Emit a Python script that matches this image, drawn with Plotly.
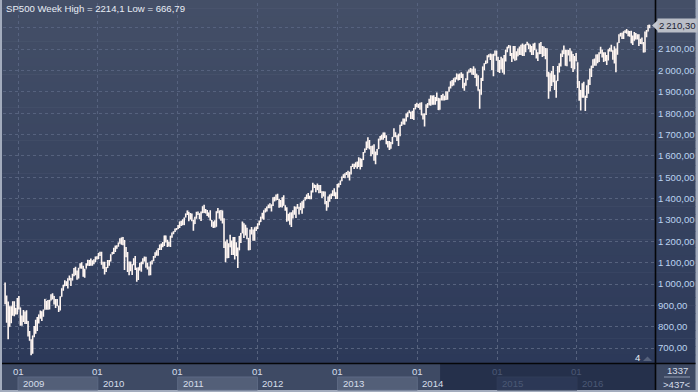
import pandas as pd
import plotly.graph_objects as go

# ---------------- data (weekly S&P 500 bars, week starting 2008-11-03) ----------------
first_week = "2008-11-03"
first_open = 968.8

weekly_high = [
    # 2008 (Nov-Dec)
    1007.5, 946.2, 918.0, 896.2, 896.0, 918.9, 918.9, 887.4, 934.7,
    # 2009
    943.9, 890.4, 852.0, 877.9, 870.8, 877.0, 827.0, 780.1, 741.0, 758.3, 803.0, 832.9, 845.6,
    857.0, 875.6, 871.8, 880.0, 930.2, 922.0, 924.6, 926.0, 951.7, 956.2, 944.0, 930.2, 930.0,
    898.7, 943.0, 979.8, 996.7, 1018.0, 1013.1, 1027.0, 1039.5, 1028.5, 1048.2, 1074.8, 1080.2,
    1063.4, 1076.2, 1096.6, 1101.4, 1085.0, 1071.3, 1097.0, 1113.7, 1112.4, 1119.1, 1110.7,
    1116.2, 1129.0, 1130.4,
    # 2010
    1145.4, 1150.5, 1150.5, 1103.7, 1104.7, 1080.0, 1112.4, 1112.4, 1139.0, 1150.0, 1169.2,
    1180.7, 1181.4, 1194.7, 1213.9, 1217.3, 1219.8, 1206.0, 1173.6, 1150.0, 1105.7, 1105.7,
    1092.0, 1121.0, 1131.2, 1076.0, 1078.2, 1099.1, 1103.7, 1120.0, 1129.2, 1127.3, 1100.0,
    1081.6, 1105.1, 1110.9, 1130.8, 1148.9, 1158.1, 1167.7, 1184.4, 1190.0, 1196.1, 1227.1,
    1227.0, 1207.4, 1198.0, 1225.6, 1240.8, 1246.7, 1259.4, 1262.6,
    # 2011
    1276.2, 1293.2, 1296.7, 1302.7, 1311.0, 1330.0, 1344.1, 1338.9, 1332.3, 1330.7, 1301.0,
    1315.0, 1337.9, 1339.5, 1331.0, 1339.5, 1364.6, 1370.6, 1351.0, 1346.8, 1334.6, 1345.2,
    1300.2, 1292.5, 1298.6, 1341.0, 1356.5, 1343.8, 1347.0, 1344.6, 1307.4, 1199.0, 1208.5,
    1190.7, 1230.7, 1204.0, 1220.4, 1220.0, 1195.9, 1171.4, 1224.6, 1239.0, 1292.7, 1285.0,
    1277.6, 1263.9, 1215.6, 1255.0, 1267.1, 1255.2, 1265.4, 1269.4,
    # 2012
    1284.6, 1296.8, 1315.5, 1333.5, 1345.3, 1354.3, 1363.4, 1371.9, 1378.0, 1372.0, 1405.9,
    1409.0, 1419.2, 1422.4, 1398.1, 1392.8, 1406.6, 1415.3, 1369.1, 1359.0, 1328.5, 1334.9,
    1335.5, 1345.0, 1364.0, 1362.2, 1374.8, 1361.5, 1380.4, 1387.0, 1394.2, 1407.1, 1418.7,
    1426.7, 1413.5, 1438.2, 1474.5, 1465.8, 1463.7, 1470.9, 1464.0, 1464.0, 1433.8, 1434.3,
    1433.4, 1388.8, 1409.2, 1419.7, 1423.7, 1438.6, 1448.0, 1430.2, 1467.9,
    # 2013
    1472.3, 1485.2, 1503.3, 1514.4, 1518.3, 1524.7, 1530.9, 1525.8, 1552.5, 1563.3, 1563.6,
    1570.3, 1573.7, 1593.4, 1588.8, 1587.0, 1618.5, 1635.0, 1667.5, 1687.2, 1674.2, 1646.5,
    1648.7, 1654.2, 1620.1, 1632.1, 1680.2, 1693.1, 1698.8, 1709.7, 1709.2, 1696.8, 1669.5,
    1669.7, 1664.8, 1689.0, 1729.9, 1711.0, 1696.6, 1703.4, 1745.3, 1759.8, 1775.2, 1774.5,
    1798.2, 1804.8, 1813.6, 1805.9, 1811.5, 1823.8, 1842.8, 1849.4,
    # 2014
    1843.2, 1849.3, 1850.8, 1798.8, 1798.0, 1841.6, 1847.5, 1867.9, 1883.6, 1882.4, 1883.9,
    1875.2, 1897.3, 1872.5, 1869.6, 1884.9, 1891.3, 1880.3, 1902.2, 1901.3, 1924.0, 1949.4,
    1955.6, 1963.9, 1968.2, 1985.6, 1982.8, 1986.0, 1991.4, 1984.6, 1942.9, 1964.0, 1994.8,
    2005.0, 2011.2, 2008.0, 2019.3, 2009.1, 1985.2, 1977.8, 1912.0, 1965.3, 2018.2, 2034.3,
    2046.2, 2071.5, 2075.8, 2079.5, 2075.8, 2077.9, 2093.6, 2093.6,
    # 2015
    2064.4, 2049.3, 2064.6, 2057.6, 2072.4, 2097.0, 2111.0, 2119.6, 2117.5, 2081.4, 2114.9,
    2114.9, 2089.8, 2102.6, 2111.9, 2120.9, 2125.9, 2120.9, 2123.9, 2134.7, 2126.2, 2121.9,
    2115.0, 2126.6, 2129.9, 2098.0, 2085.0, 2128.0, 2132.8, 2114.2, 2112.7, 2105.4, 2103.5,
    1993.5, 1986.7, 1997.3, 2020.9, 1979.6, 1951.4, 2020.9, 2033.5, 2079.7, 2094.3, 2116.5,
    2097.6, 2097.1, 2095.6, 2104.3, 2090.4, 2076.7, 2067.6, 2081.6,
    # 2016 (Jan-Nov)
    2038.2, 1950.3, 1908.9, 1940.2, 1947.2, 1881.6, 1930.7, 1958.0, 2009.1, 2022.4, 2052.4,
    2056.6, 2075.1, 2075.5, 2085.8, 2111.1, 2097.9, 2084.9, 2084.9, 2071.9, 2099.3, 2105.9,
    2120.6, 2095.0, 2113.3, 2103.0, 2131.0, 2169.1, 2175.6, 2177.1, 2183.5, 2188.5, 2193.8,
    2187.0, 2184.9, 2186.6, 2163.3, 2179.9, 2175.3, 2169.6, 2169.6, 2148.7, 2154.8, 2133.3,
    2182.3, 2189.9, 2213.4, 2214.1,
]

weekly_low = [
    # 2008
    904.9, 818.7, 741.0, 800.0, 815.7, 851.4, 849.4, 857.1, 857.1,
    # 2009
    880.0, 804.3, 804.0, 821.7, 812.9, 812.9, 754.3, 734.5, 666.8, 672.9, 751.0, 767.5, 779.8,
    814.5, 836.9, 826.8, 847.1, 879.0, 878.9, 879.6, 880.0, 923.0, 927.0, 903.8, 888.0, 896.4,
    869.3, 875.3, 940.0, 968.7, 990.0, 991.0, 978.5, 1016.2, 991.0, 1016.0, 1036.0, 1041.2,
    1019.9, 1026.0, 1072.0, 1071.0, 1033.4, 1029.0, 1072.0, 1085.0, 1083.7, 1086.0, 1085.9,
    1093.0, 1103.0, 1114.8,
    # 2010
    1116.6, 1131.4, 1090.2, 1071.6, 1044.5, 1056.5, 1075.5, 1086.0, 1105.0, 1138.0, 1141.0,
    1150.0, 1165.0, 1175.0, 1188.0, 1183.3, 1181.6, 1065.8, 1125.0, 1055.9, 1040.8, 1060.0,
    1042.2, 1088.0, 1066.0, 1010.9, 1018.4, 1063.3, 1056.9, 1092.0, 1105.0, 1076.6, 1068.0,
    1039.7, 1040.9, 1091.0, 1107.0, 1122.8, 1131.9, 1131.9, 1159.8, 1159.7, 1171.7, 1177.7,
    1194.1, 1173.0, 1176.0, 1173.6, 1217.0, 1232.8, 1243.0, 1251.5,
    # 2011
    1257.6, 1262.7, 1271.3, 1275.1, 1276.0, 1311.0, 1323.0, 1294.3, 1302.6, 1294.2, 1249.1,
    1281.3, 1305.3, 1322.9, 1303.0, 1294.7, 1331.5, 1332.0, 1330.0, 1318.5, 1311.8, 1297.9,
    1268.0, 1262.7, 1262.9, 1267.6, 1330.9, 1306.0, 1295.9, 1282.9, 1168.1, 1101.5, 1121.1,
    1122.0, 1171.8, 1136.1, 1136.2, 1114.2, 1131.0, 1074.8, 1158.0, 1191.5, 1238.0, 1215.4,
    1226.6, 1209.5, 1158.6, 1158.7, 1231.5, 1202.4, 1202.4, 1248.6,
    # 2012
    1257.6, 1274.6, 1290.0, 1306.1, 1300.5, 1335.0, 1340.0, 1354.6, 1354.9, 1340.0, 1365.0,
    1386.0, 1391.6, 1392.9, 1357.4, 1358.9, 1358.8, 1367.0, 1343.1, 1291.0, 1296.5, 1277.8,
    1266.7, 1306.6, 1324.4, 1309.3, 1352.0, 1325.4, 1345.1, 1329.2, 1354.7, 1391.0, 1397.3,
    1398.0, 1397.0, 1396.6, 1429.0, 1449.6, 1429.9, 1440.7, 1425.5, 1426.2, 1403.3, 1410.0,
    1373.0, 1343.4, 1359.9, 1385.4, 1398.2, 1411.9, 1411.0, 1398.1, 1398.1,
    # 2013
    1451.6, 1463.8, 1481.2, 1496.3, 1495.0, 1510.9, 1497.3, 1485.0, 1512.5, 1547.4, 1538.6,
    1546.2, 1539.5, 1548.0, 1536.0, 1548.2, 1581.3, 1614.4, 1628.0, 1635.5, 1630.7, 1598.2,
    1607.9, 1577.7, 1560.3, 1604.6, 1631.9, 1671.8, 1676.0, 1676.0, 1683.5, 1654.2, 1639.4,
    1627.5, 1633.4, 1655.2, 1688.0, 1687.1, 1670.0, 1646.5, 1692.0, 1740.5, 1746.5, 1746.2,
    1760.6, 1780.7, 1800.0, 1772.3, 1772.3, 1767.9, 1818.3, 1827.7,
    # 2014
    1823.7, 1815.5, 1790.3, 1770.5, 1737.9, 1791.8, 1824.6, 1836.8, 1834.4, 1839.6, 1839.0,
    1839.6, 1857.6, 1814.4, 1815.8, 1859.7, 1859.8, 1859.8, 1862.0, 1863.2, 1900.5, 1915.9,
    1925.8, 1930.0, 1944.7, 1958.2, 1952.9, 1955.6, 1965.0, 1916.4, 1904.8, 1928.7, 1955.2,
    1989.0, 1990.1, 1980.3, 1978.5, 1965.0, 1926.0, 1905.0, 1820.7, 1886.8, 1951.0, 2001.0,
    2030.2, 2034.0, 2062.0, 2049.6, 2002.3, 1972.6, 2069.0, 2046.0,
    # 2015
    1992.4, 1988.1, 2004.5, 1989.2, 1980.9, 2041.9, 2085.4, 2103.5, 2067.3, 2039.7, 2055.0,
    2045.5, 2048.4, 2066.1, 2072.4, 2073.0, 2067.9, 2067.9, 2085.0, 2117.9, 2099.2, 2085.7,
    2072.1, 2072.7, 2095.0, 2056.3, 2044.0, 2076.6, 2077.0, 2063.5, 2067.9, 2052.1, 1970.9,
    1867.0, 1903.1, 1927.4, 1944.9, 1908.8, 1871.9, 1951.0, 1990.7, 2018.2, 2062.7, 2076.0,
    2022.7, 2019.4, 2070.3, 2042.4, 2012.0, 1993.3, 2005.9, 2043.6,
    # 2016
    1918.5, 1857.8, 1812.3, 1872.7, 1872.7, 1810.1, 1871.4, 1891.0, 1931.8, 1969.3, 2011.7,
    2022.5, 2022.5, 2033.8, 2039.7, 2078.0, 2060.6, 2039.5, 2043.1, 2025.9, 2047.2, 2089.0,
    2088.0, 2050.4, 2032.6, 1991.7, 2074.0, 2128.5, 2159.0, 2147.6, 2147.3, 2175.0, 2172.0,
    2160.4, 2157.4, 2127.8, 2119.1, 2139.2, 2145.0, 2144.9, 2114.7, 2124.4, 2122.3, 2083.8,
    2085.4, 2156.1, 2183.0, 2198.0,
]

weekly_close = [
    # 2008
    930.99, 873.29, 800.03, 896.24, 876.07, 879.73, 887.88, 872.80, 931.80,
    # 2009
    890.35, 850.12, 831.95, 825.88, 868.60, 826.84, 770.05, 735.09, 683.38, 756.55, 768.54,
    815.94, 842.50, 856.56, 869.60, 866.23, 877.52, 929.23, 882.88, 887.00, 919.14, 940.09,
    946.21, 921.23, 918.90, 896.42, 879.13, 940.38, 979.26, 987.48, 1010.48, 1004.09, 1026.13,
    1028.93, 1016.40, 1042.73, 1068.30, 1044.38, 1025.21, 1071.49, 1087.68, 1079.60, 1036.19,
    1069.30, 1093.48, 1091.38, 1091.49, 1105.98, 1106.41, 1102.47, 1126.48, 1115.10,
    # 2010
    1144.98, 1136.03, 1091.76, 1073.87, 1066.19, 1075.51, 1109.17, 1104.49, 1138.70, 1149.99,
    1159.90, 1166.59, 1178.10, 1194.37, 1192.13, 1217.28, 1186.69, 1110.88, 1135.68, 1087.69,
    1089.41, 1064.88, 1091.60, 1117.51, 1076.76, 1022.58, 1077.96, 1064.88, 1102.66, 1101.60,
    1121.64, 1079.25, 1071.69, 1064.59, 1104.51, 1109.55, 1125.59, 1148.67, 1146.24, 1165.15,
    1176.19, 1183.08, 1183.26, 1225.85, 1199.21, 1199.73, 1189.40, 1224.71, 1240.40, 1243.91,
    1256.77, 1257.64,
    # 2011
    1271.50, 1293.24, 1283.35, 1276.34, 1310.87, 1329.15, 1343.01, 1319.88, 1321.15, 1304.28,
    1279.21, 1313.80, 1332.41, 1328.17, 1319.68, 1337.38, 1363.61, 1340.20, 1337.77, 1333.27,
    1331.10, 1300.16, 1270.98, 1271.50, 1268.45, 1339.67, 1343.80, 1316.14, 1345.02, 1292.28,
    1199.38, 1178.81, 1123.53, 1176.80, 1173.97, 1154.23, 1216.01, 1136.43, 1131.42, 1155.46,
    1224.58, 1238.25, 1285.09, 1253.23, 1263.85, 1215.65, 1158.67, 1244.28, 1255.19, 1219.66,
    1265.33, 1257.60,
    # 2012
    1277.81, 1289.09, 1315.38, 1316.33, 1344.90, 1342.64, 1361.23, 1365.74, 1369.63, 1370.87,
    1404.17, 1397.11, 1408.47, 1398.08, 1370.26, 1378.53, 1403.36, 1369.10, 1353.39, 1295.22,
    1317.82, 1278.04, 1325.66, 1342.84, 1335.02, 1362.16, 1354.68, 1356.78, 1362.66, 1385.97,
    1390.99, 1405.87, 1418.16, 1411.13, 1406.58, 1437.92, 1465.77, 1460.15, 1440.67, 1460.93,
    1428.59, 1433.19, 1411.94, 1414.20, 1379.85, 1359.88, 1409.15, 1416.18, 1418.07, 1413.58,
    1430.15, 1402.43, 1466.47,
    # 2013
    1472.05, 1485.98, 1502.96, 1513.17, 1517.93, 1519.79, 1515.60, 1518.20, 1551.18, 1560.70,
    1556.89, 1569.19, 1553.28, 1588.85, 1555.25, 1582.24, 1614.42, 1633.70, 1667.47, 1649.60,
    1630.74, 1643.38, 1626.73, 1592.43, 1606.28, 1631.89, 1680.19, 1692.09, 1691.65, 1709.67,
    1691.42, 1655.83, 1663.50, 1632.97, 1655.17, 1687.99, 1709.91, 1691.75, 1690.50, 1703.20,
    1744.50, 1759.77, 1761.64, 1770.61, 1798.18, 1804.76, 1805.81, 1805.09, 1775.32, 1818.32,
    1841.40, 1831.37,
    # 2014
    1842.37, 1838.70, 1790.29, 1782.59, 1797.02, 1838.63, 1836.25, 1859.45, 1878.04, 1841.13,
    1866.52, 1857.62, 1865.09, 1815.69, 1864.85, 1863.40, 1881.14, 1878.48, 1877.86, 1900.53,
    1923.57, 1949.44, 1936.16, 1962.87, 1960.96, 1985.44, 1967.57, 1978.22, 1978.34, 1925.15,
    1931.59, 1955.06, 1988.40, 2003.37, 2007.71, 1985.54, 2010.40, 1982.85, 1967.90, 1906.13,
    1886.76, 1964.58, 2018.05, 2031.92, 2039.82, 2063.50, 2067.56, 2075.37, 2002.33, 2070.65,
    2088.77, 2058.20,
    # 2015
    2044.81, 2019.42, 2051.82, 1994.99, 2055.47, 2096.99, 2110.30, 2104.50, 2071.26, 2053.40,
    2108.10, 2061.02, 2066.96, 2102.06, 2081.18, 2117.69, 2108.29, 2116.10, 2122.73, 2126.06,
    2107.39, 2092.83, 2094.11, 2109.99, 2101.49, 2076.78, 2076.62, 2126.64, 2079.65, 2103.84,
    2077.57, 2091.54, 1970.89, 1988.87, 1921.22, 1961.05, 1958.08, 1931.34, 1951.36, 2014.89,
    2033.11, 2075.15, 2079.36, 2099.20, 2023.04, 2089.17, 2090.11, 2091.69, 2012.37, 2005.55,
    2060.99, 2043.94,
    # 2016
    1922.03, 1880.33, 1906.90, 1940.24, 1880.05, 1864.78, 1917.78, 1948.05, 1999.99, 2022.19,
    2049.58, 2035.94, 2072.78, 2047.60, 2080.73, 2091.58, 2065.30, 2057.14, 2046.61, 2052.32,
    2099.06, 2099.13, 2096.07, 2071.22, 2037.41, 2102.95, 2129.90, 2161.74, 2175.03, 2173.60,
    2182.87, 2184.05, 2183.87, 2169.04, 2179.98, 2127.81, 2139.16, 2164.69, 2168.27, 2153.74,
    2132.98, 2141.16, 2126.41, 2085.18, 2164.45, 2181.90, 2213.35, 2210.30,
]

year_ticks = ["2009-01-01", "2010-01-01", "2011-01-01", "2012-01-01",
              "2013-01-01", "2014-01-01", "2015-01-01", "2016-01-01", "2017-01-01"]
year_labels = ["2009", "2010", "2011", "2012", "2013", "2014", "2015", "2016"]
month_labels = ["01", "01", "01", "01", "01", "01", "01", "01"]

price_ticks = [700, 800, 900, 1000, 1100, 1200, 1300, 1400, 1500, 1600, 1700,
               1800, 1900, 2000, 2100, 2200]
price_labels = ["700,00", "800,00", "900,00", "1\u2009000,00", "1\u2009100,00", "1\u2009200,00",
                "1\u2009300,00", "1\u2009400,00", "1\u2009500,00", "1\u2009600,00", "1\u2009700,00",
                "1\u2009800,00", "1\u2009900,00", "2\u2009000,00", "2\u2009100,00", ""]

title_text = "SP500 Week High = 2214,1 Low = 666,79"
last_price_text = "2\u2009210,30"
counter_top = "1337"
counter_bottom = ">437<"
small_marker = "4"

# ---------------- layout helpers ----------------
W, H = 698, 392
PL, PR, PT, PB = 3, 655, 3, 363          # plot area in pixels
X_RANGE = ["2008-10-24 10:00", "2016-12-22 17:00"]
Y_RANGE = [630, 2316]
DARK_START = "2014-04-15"


def fx(p):
    return (p - PL) / (PR - PL)


def fy(p):
    return (PB - p) / (PB - PT)


FONT = "Liberation Sans, Arial, sans-serif"
FS = 9.6
BAR = "#fff6f2"
GRID = "#56627e"

weeks = pd.date_range(first_week, periods=len(weekly_close), freq="7D")
weekly_open = [first_open] + weekly_close[:-1]

fig = go.Figure(go.Ohlc(
    x=weeks, open=weekly_open, high=weekly_high, low=weekly_low, close=weekly_close,
    increasing=dict(line=dict(color=BAR, width=1.6)),
    decreasing=dict(line=dict(color=BAR, width=1.6)),
    tickwidth=0.15, hoverinfo="skip", showlegend=False,
))

shapes = []
# vertical gradient background (plot + price-axis area)
top_c = (68, 79, 103)
bot_c = (44, 57, 89)
N = 44
for i in range(N):
    t = (i + 0.5) / N
    c = tuple(round(top_c[k] + (bot_c[k] - top_c[k]) * t) for k in range(3))
    y0 = PB * i / N
    y1 = PB * (i + 1) / N + 0.6
    shapes.append(dict(type="rect", xref="paper", yref="paper",
                       x0=fx(2), x1=fx(695.5), y0=fy(min(y1, PB)), y1=fy(y0),
                       fillcolor="rgb(%d,%d,%d)" % c, line=dict(width=0), layer="below"))

# bottom time band
shapes.append(dict(type="rect", xref="paper", yref="paper", x0=fx(2), x1=fx(PR),
                   y0=fy(390), y1=fy(PB), fillcolor="#3e4a64", line=dict(width=0), layer="below"))
shapes.append(dict(type="rect", xref="x", yref="paper", x0=DARK_START, x1=X_RANGE[1],
                   y0=fy(390), y1=fy(PB), fillcolor="#25304b", line=dict(width=0), layer="below"))
shapes.append(dict(type="rect", xref="paper", yref="paper", x0=fx(PR), x1=fx(695.5),
                   y0=fy(390), y1=fy(PB), fillcolor="#3c4862", line=dict(width=0), layer="below"))
# alternating year boxes
for i in range(0, len(year_labels), 2):
    dark = year_ticks[i] >= DARK_START
    shapes.append(dict(type="rect", xref="x", yref="paper", x0=year_ticks[i], x1=year_ticks[i + 1],
                       y0=fy(390), y1=fy(377),
                       fillcolor="#2c3856" if dark else "#535f78",
                       line=dict(width=1, color="#303c58" if dark else "#5d6983"), layer="below"))

# separators
shapes.append(dict(type="line", xref="paper", yref="paper", x0=fx(2), x1=fx(695.5),
                   y0=fy(PB + 0.5), y1=fy(PB + 0.5), line=dict(color="#050608", width=1.6), layer="above"))
shapes.append(dict(type="line", xref="paper", yref="paper", x0=fx(PR + 0.5), x1=fx(PR + 0.5),
                   y0=fy(390), y1=fy(0), line=dict(color="#050608", width=1.6), layer="above"))
# counter separator
shapes.append(dict(type="line", xref="paper", yref="paper", x0=fx(664), x1=fx(690),
                   y0=fy(377), y1=fy(377), line=dict(color="#8c97ad", width=1), layer="above"))
# small triangle next to the "4"
shapes.append(dict(type="path", xref="paper", yref="paper",
                   path="M %f,%f L %f,%f L %f,%f Z" % (fx(643), fy(361), fx(652), fy(361), fx(647.5), fy(356.5)),
                   fillcolor="#56627c", line=dict(width=0), layer="above"))
# last price pointer
last = weekly_close[-1]
ppu = (PB - PT) / (Y_RANGE[1] - Y_RANGE[0])
shapes.append(dict(type="path", xref="paper", yref="y",
                   path="M %f,%f L %f,%f L %f,%f Z" % (fx(652), last, fx(658), last + 5.5 / ppu,
                                                    fx(658), last - 5.5 / ppu),
                   fillcolor="#c3c7cf", line=dict(width=0), layer="above"))

annotations = [
    dict(xref="paper", yref="paper", x=fx(3.5), y=fy(8.5), xanchor="left", yanchor="middle",
         text=title_text, showarrow=False, font=dict(family=FONT, size=FS, color="#e8edf5")),
    dict(xref="paper", yref="y", x=fx(657), y=last, xanchor="left", yanchor="middle",
         text=last_price_text, showarrow=False, bgcolor="#babec7", borderpad=1,
         font=dict(family=FONT, size=FS, color="#1c2333")),
    dict(xref="paper", yref="paper", x=fx(638), y=fy(357.5), xanchor="center", yanchor="middle",
         text=small_marker, showarrow=False, font=dict(family=FONT, size=FS, color="#e8edf5")),
    dict(xref="paper", yref="paper", x=fx(677), y=fy(370.5), xanchor="center", yanchor="middle",
         text=counter_top, showarrow=False, font=dict(family=FONT, size=FS, color="#d6deea")),
    dict(xref="paper", yref="paper", x=fx(677), y=fy(384), xanchor="center", yanchor="middle",
         text=counter_bottom, showarrow=False, font=dict(family=FONT, size=FS, color="#d6deea")),
]
for i, (m, yl) in enumerate(zip(month_labels, year_labels)):
    dark = year_ticks[i] >= DARK_START
    col = "#4b5875" if dark else "#d6deea"
    annotations.append(dict(xref="x", yref="paper", x=year_ticks[i], y=fy(371), xanchor="center",
                            yanchor="middle", text=m, showarrow=False,
                            font=dict(family=FONT, size=FS, color=col)))
    annotations.append(dict(xref="x", yref="paper", x=year_ticks[i], y=fy(383.5), xanchor="left",
                            xshift=3, yanchor="middle", text=yl, showarrow=False,
                            font=dict(family=FONT, size=FS, color=col)))

fig.update_layout(
    width=W, height=H, autosize=False,
    margin=dict(l=PL, r=W - PR, t=PT, b=H - PB, pad=0),
    paper_bgcolor="#a3acbd", plot_bgcolor="rgba(0,0,0,0)",
    shapes=shapes, annotations=annotations, showlegend=False, hovermode=False,
    font=dict(family=FONT, size=FS),
    xaxis=dict(type="date", range=X_RANGE, tickvals=year_ticks, showticklabels=False,
               showgrid=True, gridcolor=GRID, griddash="3px,3px", gridwidth=1,
               zeroline=False, showline=False, ticks="", rangeslider=dict(visible=False),
               fixedrange=True),
    yaxis=dict(range=Y_RANGE, side="right", tickvals=price_ticks, ticktext=price_labels,
               tickfont=dict(family=FONT, size=FS, color="#bcd3f0"),
               showgrid=True, gridcolor=GRID, griddash="3px,3px", gridwidth=1,
               zeroline=False, showline=False, ticks="", ticklabelstandoff=2, fixedrange=True),
)

fig.write_html("out.html", config={"displayModeBar": False},
               post_script="document.body.style.margin='0';document.body.style.overflow='hidden';")
